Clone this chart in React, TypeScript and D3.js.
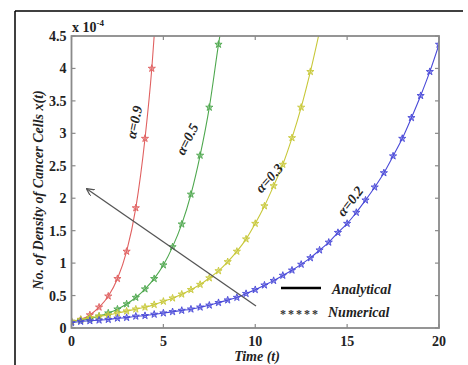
import React from "react";
import * as d3 from "d3";

const xTicks = [0, 5, 10, 15, 20];
const yTicks = [0, 0.5, 1, 1.5, 2, 2.5, 3, 3.5, 4, 4.5];

const tRed = [0, 0.5, 1, 1.5, 2, 2.5, 3, 3.5, 4, 4.37, 4.55];
const yRed = [0.1, 0.13, 0.2, 0.32, 0.49, 0.76, 1.18, 1.85, 2.92, 4.0, 4.7];

const tGreen = [0, 0.5, 1, 1.5, 2, 2.5, 3, 3.5, 4, 4.5, 5, 5.5, 6, 6.5, 7, 7.5, 8, 8.3];
const yGreen = [0.1, 0.12, 0.14, 0.18, 0.23, 0.29, 0.37, 0.47, 0.6, 0.76, 0.97, 1.25, 1.6, 2.06, 2.66, 3.4, 4.37, 4.9];

const tYellow = [0, 0.5, 1, 1.5, 2, 2.5, 3, 3.5, 4, 4.5, 5, 5.5, 6, 6.5, 7, 7.5, 8, 8.5, 9, 9.5, 10, 10.5, 11, 11.5, 12, 12.5, 13, 13.6];
const yYellow = [0.1, 0.13, 0.16, 0.18, 0.2, 0.23, 0.26, 0.29, 0.32, 0.36, 0.41, 0.46, 0.52, 0.59, 0.67, 0.77, 0.88, 1.02, 1.18, 1.37, 1.61, 1.88, 2.19, 2.52, 2.93, 3.4, 3.95, 4.7];

const tBlue = [0, 0.5, 1, 1.5, 2, 2.5, 3, 3.5, 4, 4.5, 5, 5.5, 6, 6.5, 7, 7.5, 8, 8.5, 9, 9.5, 10, 10.5, 11, 11.5, 12, 12.5, 13, 13.5, 14, 14.5, 15, 15.5, 16, 16.5, 17, 17.5, 18, 18.5, 19, 19.5, 20];
const yBlue = [0.08, 0.1, 0.11, 0.12, 0.13, 0.15, 0.16, 0.18, 0.19, 0.21, 0.23, 0.25, 0.27, 0.29, 0.32, 0.35, 0.39, 0.43, 0.47, 0.53, 0.59, 0.66, 0.73, 0.81, 0.89, 0.98, 1.08, 1.2, 1.32, 1.47, 1.61, 1.78, 1.97, 2.17, 2.39, 2.65, 2.92, 3.24, 3.58, 3.95, 4.37];

const seriesNames = ["α=0.9", "α=0.5", "α=0.3", "α=0.2"];
const seriesColors = ["#e06060", "#4fa84f", "#c8c83a", "#4a4ad8"];

export default function App() {
  const x = d3.scaleLinear().domain([0, 20]).range([71.5, 439]);
  const y = d3.scaleLinear().domain([0, 4.5]).range([328, 36]);
  const series = [
    { t: tRed, v: yRed },
    { t: tGreen, v: yGreen },
    { t: tYellow, v: yYellow },
    { t: tBlue, v: yBlue },
  ];
  const line = d3
    .line<[number, number]>()
    .x((d) => x(d[0]))
    .y((d) => y(d[1]))
    .curve(d3.curveMonotoneX);
  const star = d3.symbol().type(d3.symbolStar).size(16)() as string;
  const [x0, x1] = x.range();
  const [yb, yt] = y.range();
  const font = "'Liberation Serif', 'Times New Roman', serif";
  const axisColor = "#8a8a8a";

  const labels = [
    { cx: 134, cy: 122, rot: -78 },
    { cx: 187, cy: 139, rot: -63 },
    { cx: 269, cy: 178, rot: -48 },
    { cx: 350, cy: 201, rot: -52 },
  ];

  return (
    <svg
      width={468}
      height={365}
      style={{ position: "absolute", left: 0, top: 0, background: "#fff" }}
      fontFamily={font}
    >
      <defs>
        <clipPath id="plotclip">
          <rect x={x0} y={yt} width={x1 - x0} height={yb - yt} />
        </clipPath>
        <marker id="arrowhead" viewBox="0 0 10 10" refX="9" refY="5" markerWidth="6" markerHeight="6" orient="auto">
          <path d="M0,0 L10,5 L0,10" fill="none" stroke="#555" strokeWidth={1.6} />
        </marker>
      </defs>
      {/* outer frame */}
      <line x1={15} y1={11} x2={463} y2={11} stroke="#000" strokeWidth={1.5} />
      <line x1={15} y1={11} x2={15} y2={365} stroke="#000" strokeWidth={1.5} />

      {/* curves */}
      <g clipPath="url(#plotclip)">
        {series.map((s, i) => {
          const pts = s.t.map((t, j) => [t, s.v[j]] as [number, number]);
          return (
            <g key={i}>
              <path d={line(pts) as string} fill="none" stroke={seriesColors[i]} strokeWidth={1.1} />
              {pts
                .filter((p) => p[1] <= 4.45)
                .map((p, j) => (
                  <path
                    key={j}
                    d={star}
                    transform={`translate(${x(p[0])},${y(p[1])})`}
                    fill={seriesColors[i]}
                    fillOpacity={0.5}
                    stroke={seriesColors[i]}
                    strokeWidth={0.9}
                  />
                ))}
            </g>
          );
        })}
      </g>

      {/* axes box */}
      <rect x={x0} y={yt} width={x1 - x0} height={yb - yt} fill="none" stroke={axisColor} strokeWidth={1.8} />
      {xTicks.map((t) => (
        <g key={"xt" + t}>
          <line x1={x(t)} x2={x(t)} y1={yb} y2={yb - 4} stroke={axisColor} strokeWidth={1.2} />
          <line x1={x(t)} x2={x(t)} y1={yt} y2={yt + 4} stroke={axisColor} strokeWidth={1.2} />
          <text x={x(t)} y={yb + 18} textAnchor="middle" fontSize={14} fontWeight="bold" fill="#222">
            {t}
          </text>
        </g>
      ))}
      {yTicks.map((t) => (
        <g key={"yt" + t}>
          <line x1={x0} x2={x0 + 4} y1={y(t)} y2={y(t)} stroke={axisColor} strokeWidth={1.2} />
          <line x1={x1} x2={x1 - 4} y1={y(t)} y2={y(t)} stroke={axisColor} strokeWidth={1.2} />
          <text x={x0 - 5} y={y(t) + 5} textAnchor="end" fontSize={14} fontWeight="bold" fill="#222">
            {t}
          </text>
        </g>
      ))}

      {/* exponent */}
      <text x={72} y={32} fontSize={14} fontWeight="bold" fill="#222">
        x 10
        <tspan dy={-6} fontSize={9}>-4</tspan>
      </text>

      {/* axis titles */}
      <text x={257} y={361} textAnchor="middle" fontSize={14} fontWeight="bold" fontStyle="italic" fill="#222">
        Time (t)
      </text>
      <text
        transform="translate(43,190) rotate(-90)"
        textAnchor="middle"
        fontSize={14}
        fontWeight="bold"
        fontStyle="italic"
        fill="#222"
      >
        No. of Density of Cancer Cells x(t)
      </text>

      {/* curve labels */}
      {labels.map((l, i) => (
        <text
          key={i}
          transform={`translate(${l.cx},${l.cy}) rotate(${l.rot})`}
          textAnchor="middle"
          dy={5}
          fontSize={14}
          fontWeight="bold"
          fontStyle="italic"
          fill="#222"
        >
          {seriesNames[i]}
        </text>
      ))}

      {/* arrow */}
      <line x1={256} y1={306} x2={87} y2={189} stroke="#555" strokeWidth={1.3} markerEnd="url(#arrowhead)" />

      {/* legend */}
      <line x1={281} x2={321} y1={288} y2={288} stroke="#000" strokeWidth={2.5} />
      <text x={332} y={294} fontSize={14} fontWeight="bold" fontStyle="italic" fill="#222">
        Analytical
      </text>
      <text x={280} y={318} fontSize={12} fontWeight="bold" fill="#333" letterSpacing={2}>
        *****
      </text>
      <text x={328} y={317} fontSize={14} fontWeight="bold" fontStyle="italic" fill="#222">
        Numerical
      </text>
    </svg>
  );
}
